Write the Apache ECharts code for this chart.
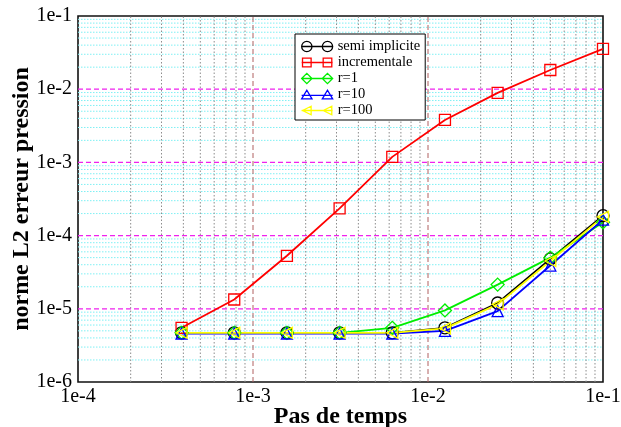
<!DOCTYPE html>
<html>
<head>
<meta charset="utf-8">
<script src="https://cdn.jsdelivr.net/npm/echarts@6/dist/echarts.min.js"></script>
<style>
  html, body { margin: 0; padding: 0; background: #fff; }
  #chart { width: 621px; height: 427px; }
</style>
</head>
<body>
<div id="chart"></div>
<script>
// Time steps (halved each run)
const steps = [0.000390625, 0.00078125, 0.0015625, 0.003125, 0.00625, 0.0125, 0.025, 0.05, 0.1];

// L2 norm of pressure error for each scheme
const semiImplicite = [4.7e-6, 4.7e-6, 4.7e-6, 4.7e-6, 4.7e-6, 5.5e-6, 1.2e-5, 4.8e-5, 1.87e-4];
const incrementale  = [5.5e-6, 1.34e-5, 5.3e-5, 2.35e-4, 1.19e-3, 3.8e-3, 8.9e-3, 1.83e-2, 3.55e-2];
const r1            = [4.7e-6, 4.7e-6, 4.7e-6, 4.7e-6, 5.5e-6, 9.5e-6, 2.14e-5, 5.0e-5, 1.52e-4];
const r10           = [4.6e-6, 4.6e-6, 4.6e-6, 4.6e-6, 4.6e-6, 5.0e-6, 9.3e-6, 3.9e-5, 1.65e-4];
const r100          = [4.7e-6, 4.7e-6, 4.7e-6, 4.7e-6, 4.7e-6, 5.4e-6, 1.15e-5, 4.5e-5, 1.8e-4];

const seriesNames = ['semi implicite', 'incrementale', 'r=1', 'r=10', 'r=100'];
const xTicks = ['1e-4', '1e-3', '1e-2', '1e-1'];
const yTicks = ['1e-6', '1e-5', '1e-4', '1e-3', '1e-2', '1e-1'];

const FONT = "'Liberation Serif', 'Times New Roman', serif";
const X_MIN = 1e-4, X_MAX = 1e-1, Y_MIN = 1e-6, Y_MAX = 1e-1;

// minor grid positions: 2..9 within each decade
function minorValues(fromExp, toExp) {
  const out = [];
  for (let e = fromExp; e < toExp; e++) {
    for (let m = 2; m <= 9; m++) out.push(m * Math.pow(10, e));
  }
  return out;
}
const xMinor = minorValues(-4, -1);
const yMinor = minorValues(-6, -1);
const xMajor = [1e-3, 1e-2];
const yMajor = [1e-5, 1e-4, 1e-3, 1e-2];

// grid lines as broken polylines: each segment spans the full axis range
function vLines(vals) {
  const d = [];
  vals.forEach(v => { d.push([v, Y_MIN], [v, Y_MAX], ['-', '-']); });
  return d;
}
function hLines(vals) {
  const d = [];
  vals.forEach(v => { d.push([X_MIN, v], [X_MAX, v], ['-', '-']); });
  return d;
}
function gridLineSeries(data, color, dash, width) {
  return {
    type: 'line',
    data: data,
    symbol: 'none',
    silent: true,
    connectNulls: false,
    lineStyle: { color: color, type: dash, width: width },
    emphasis: { disabled: true },
    z: 1
  };
}

function pairs(vals) { return steps.map((s, i) => [s, vals[i]]); }

function lineSeries(name, vals, color, symbol, size, rotate) {
  return {
    name: name,
    type: 'line',
    data: pairs(vals),
    symbol: symbol,
    symbolSize: size,
    symbolRotate: rotate || 0,
    showAllSymbol: true,
    lineStyle: { color: color, width: 1.8 },
    itemStyle: { color: 'rgba(255,255,255,0)', borderColor: color, borderWidth: 1.3 },
    emphasis: { disabled: true },
    z: 5
  };
}

// legend glyphs: two markers joined by a line
const legendIcons = [
  'path://M0,6 A6,6 0 1 1 12,6 A6,6 0 1 1 0,6 Z M24,6 A6,6 0 1 1 36,6 A6,6 0 1 1 24,6 Z M0,6 L36,6',
  'path://M1,1 L11,1 L11,11 L1,11 Z M25,1 L35,1 L35,11 L25,11 Z M0,6 L36,6',
  'path://M0,6 L6,0 L12,6 L6,12 Z M24,6 L30,0 L36,6 L30,12 Z M0,6 L36,6',
  'path://M0,11 L6,1 L12,11 Z M24,11 L30,1 L36,11 Z M0,7 L36,7',
  'path://M1,6 L11,1 L11,11 Z M25,6 L35,1 L35,11 Z M0,6 L36,6'
];

const chart = echarts.init(document.getElementById('chart'), null, { renderer: 'canvas' });
chart.setOption({
  animation: false,
  backgroundColor: '#fff',
  textStyle: { fontFamily: FONT },
  grid: {
    left: 78, right: 18, top: 16, bottom: 45,
    outerBoundsMode: 'none',
    containLabel: false,
    show: true, borderColor: '#111', borderWidth: 1.6, backgroundColor: 'transparent'
  },
  xAxis: {
    type: 'log',
    logBase: 10,
    min: X_MIN,
    max: X_MAX,
    name: 'Pas de temps',
    nameLocation: 'middle',
    nameGap: 23,
    nameMoveOverlap: false,
    nameTextStyle: { fontFamily: FONT, fontWeight: 'bold', fontSize: 24, color: '#000' },
    axisLine: { show: false },
    axisTick: { show: false },
    splitLine: { show: false },
    axisLabel: {
      color: '#000', fontFamily: FONT, fontSize: 20, margin: 5,
      hideOverlap: false,
      formatter: v => xTicks[Math.round(Math.log10(v)) + 4]
    }
  },
  yAxis: {
    type: 'log',
    logBase: 10,
    min: Y_MIN,
    max: Y_MAX,
    name: 'norme L2 erreur pression',
    nameLocation: 'middle',
    nameGap: 44,
    nameMoveOverlap: false,
    nameTextStyle: { fontFamily: FONT, fontWeight: 'bold', fontSize: 24, color: '#000' },
    axisLine: { show: false },
    axisTick: { show: false },
    splitLine: { show: false },
    axisLabel: {
      color: '#000', fontFamily: FONT, fontSize: 20, margin: 6,
      hideOverlap: false,
      formatter: v => yTicks[Math.round(Math.log10(v)) + 6]
    }
  },
  legend: {
    data: seriesNames.map((n, i) => ({ name: n, icon: legendIcons[i] })),
    orient: 'vertical',
    left: 295,
    top: 34,
    backgroundColor: '#fff',
    borderColor: '#000',
    borderWidth: 1,
    padding: [5, 5, 2, 6],
    itemWidth: 31,
    itemHeight: 11,
    itemGap: 1,
    itemStyle: { borderWidth: 1.3 },
    selectedMode: false,
    textStyle: { fontFamily: FONT, fontSize: 14.5, color: '#000' }
  },
  series: [
    gridLineSeries(hLines(yMinor), '#7ff0f4', [1.5, 1.5], 1),
    gridLineSeries(vLines(xMinor), '#8c8c8c', [1.5, 2], 1),
    gridLineSeries(hLines(yMajor), '#ee22ee', [5, 3], 1.3),
    gridLineSeries(vLines(xMajor), '#b06060', [5, 3], 1),
    lineSeries('semi implicite', semiImplicite, '#000000', 'circle', 12),
    lineSeries('incrementale', incrementale, '#ff0000', 'rect', 11),
    lineSeries('r=1', r1, '#00ee00', 'diamond', 13),
    lineSeries('r=10', r10, '#0000ff', 'triangle', 11),
    lineSeries('r=100', r100, '#ffff00', 'triangle', 11, 90)
  ]
});
</script>
</body>
</html>
